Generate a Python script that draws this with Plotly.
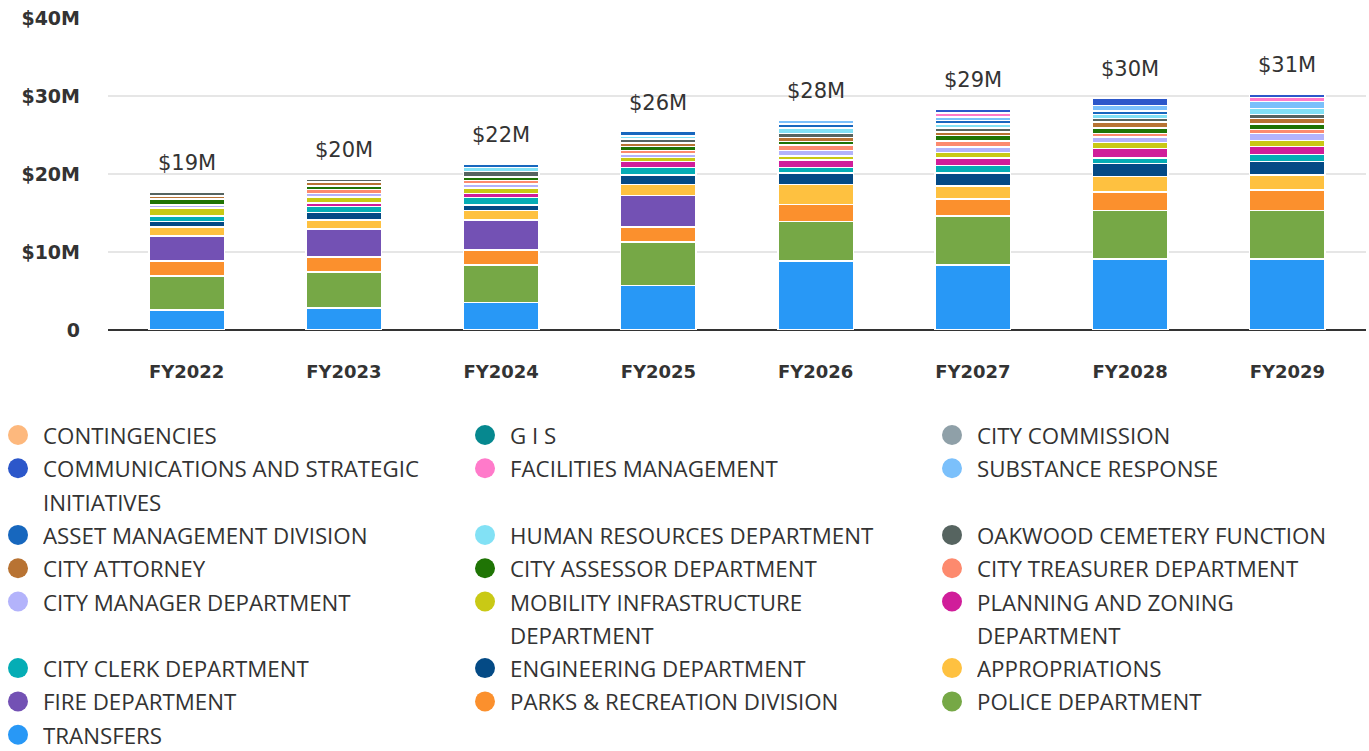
import plotly.graph_objects as go

# ---------------- data (values in $ millions) ----------------
years = ["FY2022", "FY2023", "FY2024", "FY2025", "FY2026", "FY2027", "FY2028", "FY2029"]
total_labels = ["$19M", "$20M", "$22M", "$26M", "$28M", "$29M", "$30M", "$31M"]
y_tickvals = [0, 10, 20, 30, 40]
y_ticktext = ["0", "$10M", "$20M", "$30M", "$40M"]

transfers = [2.57, 2.79, 3.50, 5.69, 8.86, 8.34, 9.08, 9.08]
police = [4.36, 4.62, 4.84, 5.57, 5.04, 6.29, 6.24, 6.24]
parks = [1.93, 1.93, 1.93, 1.93, 2.18, 2.14, 2.40, 2.66]
fire = [3.17, 3.59, 3.85, 4.06, 0, 0, 0, 0]
appropriations = [1.16, 1.16, 1.19, 1.41, 2.57, 1.67, 1.93, 1.89]
engineering = [0.72, 0.98, 0.73, 1.21, 1.46, 1.67, 1.71, 1.71]
city_clerk = [0.73, 0.77, 0.94, 0.98, 0.72, 0.98, 0.69, 0.94]
planning = [0, 0.47, 0.51, 0.77, 0.99, 0.95, 1.23, 0.99]
mobility = [0.99, 0.73, 0.73, 0.47, 0.51, 0.72, 0.73, 0.77]
city_manager = [0.42, 0.46, 0.47, 0.47, 0.68, 0.73, 0.73, 0.94]
treasurer = [0, 0.51, 0.46, 0.46, 0.73, 0.73, 0.46, 0.51]
assessor = [0.73, 0.47, 0.47, 0.51, 0.42, 0.72, 0.73, 0.69]
attorney = [0.42, 0.47, 0, 0.47, 0.51, 0.47, 0.73, 0.72]
oakwood = [0.51, 0.42, 0.73, 0.47, 0.51, 0.51, 0.46, 0.51]
human_resources = [0, 0, 0.51, 0.42, 0.73, 0.47, 0.51, 0.73]
asset_management = [0, 0, 0.42, 0.55, 0.51, 0.46, 0.47, 0]
substance_response = [0, 0, 0, 0, 0.47, 0.47, 0.68, 0.94]
facilities = [0, 0, 0, 0, 0, 0.51, 0, 0.47]
communications = [0, 0, 0, 0, 0, 0.47, 0.99, 0.47]
city_commission = [0, 0, 0, 0, 0, 0, 0, 0]
gis = [0, 0, 0, 0, 0, 0, 0, 0]
contingencies = [0, 0, 0, 0, 0, 0, 0, 0]

# stacking order: bottom -> top
series = [
    ("TRANSFERS", transfers, "#2898f6"),
    ("POLICE DEPARTMENT", police, "#76a846"),
    ("PARKS & RECREATION DIVISION", parks, "#fb902d"),
    ("FIRE DEPARTMENT", fire, "#7351b4"),
    ("APPROPRIATIONS", appropriations, "#fec140"),
    ("ENGINEERING DEPARTMENT", engineering, "#044a85"),
    ("CITY CLERK DEPARTMENT", city_clerk, "#05adb5"),
    ("PLANNING AND ZONING<br>DEPARTMENT", planning, "#d01e9a"),
    ("MOBILITY INFRASTRUCTURE<br>DEPARTMENT", mobility, "#c9c915"),
    ("CITY MANAGER DEPARTMENT", city_manager, "#b3b3fb"),
    ("CITY TREASURER DEPARTMENT", treasurer, "#fd8a6e"),
    ("CITY ASSESSOR DEPARTMENT", assessor, "#1f7405"),
    ("CITY ATTORNEY", attorney, "#b87333"),
    ("OAKWOOD CEMETERY FUNCTION", oakwood, "#566460"),
    ("HUMAN RESOURCES DEPARTMENT", human_resources, "#82e1f5"),
    ("ASSET MANAGEMENT DIVISION", asset_management, "#1767be"),
    ("SUBSTANCE RESPONSE", substance_response, "#7bc0fb"),
    ("FACILITIES MANAGEMENT", facilities, "#ff7aca"),
    ("COMMUNICATIONS AND STRATEGIC<br>INITIATIVES", communications, "#2c57ca"),
    ("CITY COMMISSION", city_commission, "#8fa0a8"),
    ("G I S", gis, "#06888f"),
    ("CONTINGENCIES", contingencies, "#fdb87d"),
]

# ---------------- layout geometry ----------------
W, H = 1369, 751
ML, MR, MT, MB = 108, 3, 18, 421
PW, PH = W - ML - MR, H - MT - MB


def paper_x(px):
    return (px - ML) / PW


def paper_y(py):
    return (H - MB - py) / PH


fig = go.Figure()
for name, vals, color in series:
    fig.add_trace(go.Bar(
        x=years, y=vals, name=name.replace("<br>", " "),
        marker=dict(color=color, line=dict(color="#ffffff", width=1.5)),
        width=0.48, showlegend=False,
        hovertemplate="%{x}<br>%{fullData.name}: $%{y:.2f}M<extra></extra>",
    ))

# totals above bars
totals = [sum(s[1][i] for s in series) for i in range(len(years))]
annotations = []
for yr, tot, lab in zip(years, totals, total_labels):
    annotations.append(dict(
        x=yr, y=tot, xref="x", yref="y", text=lab, showarrow=False,
        yanchor="bottom", yshift=15,
        font=dict(family="DejaVu Sans", size=21, color="#333333"),
    ))

# custom legend (3 columns, reversed stack order)
legend_items = list(reversed(series))
shapes = []
LINE_H = 33.3
first_y = 435
col_marker_x = 18
col_text_x = 42
col_step = 467
line_idx = 0
for r in range(0, len(legend_items), 3):
    row = legend_items[r:r + 3]
    row_lines = 1
    for c, (name, vals, color) in enumerate(row):
        lines = name.split("<br>")
        row_lines = max(row_lines, len(lines))
        cy = first_y + line_idx * LINE_H
        shapes.append(dict(
            type="circle", xref="paper", yref="paper",
            xsizemode="pixel", ysizemode="pixel",
            xanchor=paper_x(col_marker_x + c * col_step), yanchor=paper_y(cy),
            x0=-10, x1=10, y0=-10, y1=10,
            fillcolor=color, line=dict(width=0),
        ))
        for k, t in enumerate(lines):
            annotations.append(dict(
                x=paper_x(col_text_x + c * col_step), y=paper_y(cy + k * LINE_H),
                xref="paper", yref="paper", text=t, showarrow=False,
                xanchor="left", yanchor="middle", borderpad=0, height=26,
                font=dict(family="Open Sans", size=22.3, color="#333333"),
            ))
    line_idx += row_lines

fig.update_layout(
    width=W, height=H,
    margin=dict(l=ML, r=MR, t=MT, b=MB, pad=0),
    barmode="stack",
    plot_bgcolor="#ffffff", paper_bgcolor="#ffffff",
    showlegend=False,
    annotations=annotations,
    shapes=shapes,
    xaxis=dict(
        type="category", range=[-0.5, 7.5], showgrid=False, showline=False,
        ticks="", ticklabelstandoff=29,
        tickfont=dict(family="DejaVu Sans", size=18, color="#333333", weight="bold"),
        fixedrange=True,
    ),
    yaxis=dict(
        range=[0, 40], tickvals=y_tickvals, ticktext=y_ticktext,
        showgrid=True, gridcolor="#e6e6e6", gridwidth=2,
        zeroline=True, zerolinecolor="#333333", zerolinewidth=2,
        ticks="", ticklabelstandoff=27,
        tickfont=dict(family="DejaVu Sans", size=19, color="#333333", weight="bold"),
        fixedrange=True,
    ),
)

fig.write_html(
    "out.html",
    config={"displayModeBar": False},
    post_script="document.body.style.margin='0';document.body.style.overflow='hidden';",
)
